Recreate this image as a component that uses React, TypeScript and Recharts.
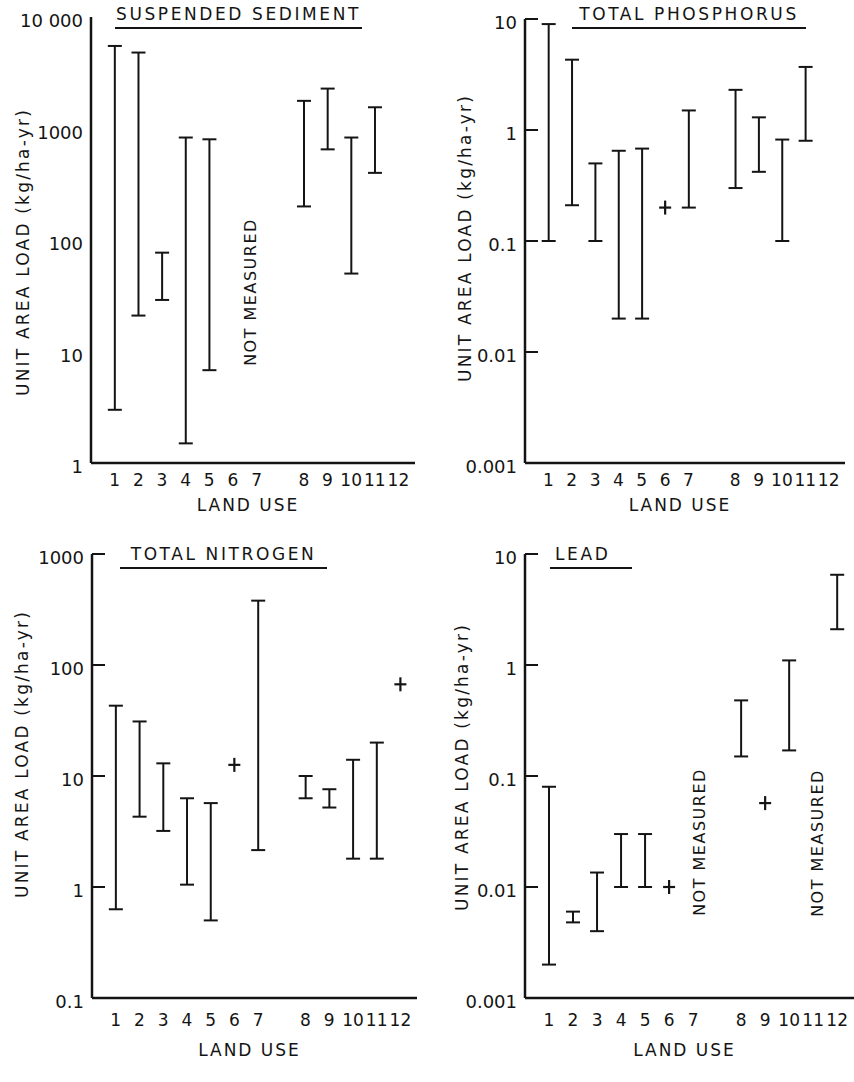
import { ComposedChart, Bar, Scatter, XAxis, YAxis } from 'recharts'

const INK = '#141414'

const landUse = ['1', '2', '3', '4', '5', '6', '7', '8', '9', '10', '11', '12']
// x slot of each land use on the axis (slot 8 stays empty, like the original)
const slots = [1, 2, 3, 4, 5, 6, 7, 9, 10, 11, 12, 13]

// unit area loads, kg/ha-yr. null = no value
const sedimentLow = [3, 21, 29, 1.5, 6.8, null, null, 200, 650, 50, 400, null]
const sedimentHigh = [5500, 4800, 77, 830, 800, null, null, 1770, 2280, 830, 1550, null]
const sedimentSingle = [null, null, null, null, null, null, null, null, null, null, null, null]
const sedimentTicks = [1, 10, 100, 1000, 10000]
const sedimentTickLabels = ['1', '10', '100', '1000', '10 000']

const phosphorusLow = [0.1, 0.21, 0.1, 0.02, 0.02, null, 0.2, 0.3, 0.42, 0.1, 0.8, null]
const phosphorusHigh = [9, 4.3, 0.5, 0.65, 0.68, null, 1.5, 2.3, 1.3, 0.82, 3.7, null]
const phosphorusSingle = [null, null, null, null, null, 0.2, null, null, null, null, null, null]
const phosphorusTicks = [0.001, 0.01, 0.1, 1, 10]
const phosphorusTickLabels = ['0.001', '0.01', '0.1', '1', '10']

const nitrogenLow = [0.63, 4.3, 3.2, 1.05, 0.5, null, 2.15, 6.3, 5.2, 1.8, 1.8, null]
const nitrogenHigh = [43, 31, 13, 6.3, 5.7, null, 380, 10, 7.6, 14, 20, null]
const nitrogenSingle = [null, null, null, null, null, 12.6, null, null, null, null, null, 67]
const nitrogenTicks = [0.1, 1, 10, 100, 1000]
const nitrogenTickLabels = ['0.1', '1', '10', '100', '1000']

const leadLow = [0.002, 0.0048, 0.004, 0.01, 0.01, null, null, 0.15, null, 0.17, null, 2.1]
const leadHigh = [0.08, 0.006, 0.0135, 0.03, 0.03, null, null, 0.48, null, 1.1, null, 6.5]
const leadSingle = [null, null, null, null, null, 0.01, null, null, 0.057, null, null, null]
const leadTicks = [0.001, 0.01, 0.1, 1, 10]
const leadTickLabels = ['0.001', '0.01', '0.1', '1', '10']

const TICK_GAP = 8

function IBeam(props: any) {
  const { x, y, width, height } = props
  const cx = x + width / 2
  return (
    <g stroke={INK} strokeWidth={2}>
      <line x1={cx} y1={y} x2={cx} y2={y + height} />
      <line x1={x} y1={y} x2={x + width} y2={y} />
      <line x1={x} y1={y + height} x2={x + width} y2={y + height} />
    </g>
  )
}

function Plus(props: any) {
  const { cx, cy } = props
  return (
    <g stroke={INK} strokeWidth={2.2}>
      <line x1={cx - 6} y1={cy} x2={cx + 6} y2={cy} />
      <line x1={cx} y1={cy - 7} x2={cx} y2={cy + 7} />
    </g>
  )
}

// y tick: label left of the axis, short tick mark pointing into the plot
function YTick(props: any) {
  const { x, y, payload, labels, ticks, showLine } = props
  const axisX = x + TICK_GAP
  return (
    <g>
      {showLine && <line x1={axisX} y1={y} x2={axisX + 13} y2={y} stroke={INK} strokeWidth={2} />}
      <text x={x} y={y + 4} dy="0.35em" textAnchor="end" fontSize={18} fill={INK}>
        {labels[ticks.indexOf(payload.value)]}
      </text>
    </g>
  )
}

interface PanelProps {
  low: (number | null)[]
  high: (number | null)[]
  single: (number | null)[]
  ticks: number[]
  tickLabels: string[]
  left: number
  top: number
  yWidth: number
  mTop: number
  mRight: number
  xHeight: number
  tickGap: number
  labelOffset: number
  titleX: number
  titleShift: number
  showTickLines: boolean
}

function Panel(p: PanelProps) {
  const ranges = landUse
    .map((label, i) => ({ slot: slots[i], label, range: [p.low[i], p.high[i]] }))
    .filter((r) => r.range[0] != null)
  const points = landUse
    .map((label, i) => ({ slot: slots[i], label, value: p.single[i] }))
    .filter((r) => r.value != null)

  return (
    <div style={{ position: 'absolute', left: p.left, top: p.top }}>
      <ComposedChart
        width={427}
        height={540}
        data={ranges}
        margin={{ top: p.mTop, right: p.mRight, bottom: 0, left: 0 }}
      >
        <XAxis
          type="number"
          dataKey="slot"
          domain={[0, 13.7]}
          ticks={slots}
          interval={0}
          allowDataOverflow
          tickFormatter={(v) => landUse[slots.indexOf(v)]}
          tickLine={false}
          tickMargin={p.tickGap}
          axisLine={{ stroke: INK, strokeWidth: 2.5 }}
          tick={{ fontSize: 17, fill: INK }}
          height={p.xHeight}
          label={{
            value: 'LAND USE',
            position: 'insideBottom',
            offset: p.labelOffset,
            dx: -5,
            style: { fontSize: 17, fill: INK, letterSpacing: 2 },
          }}
        />
        <YAxis
          type="number"
          scale="log"
          domain={[p.ticks[0], p.ticks[p.ticks.length - 1]]}
          ticks={p.ticks}
          interval={0}
          allowDataOverflow
          width={p.yWidth}
          tickSize={0}
          tickMargin={TICK_GAP}
          tickLine={false}
          axisLine={{ stroke: INK, strokeWidth: 2.5 }}
          tick={(t: any) => (
            <YTick {...t} labels={p.tickLabels} ticks={p.ticks} showLine={p.showTickLines} />
          )}
          label={{
            value: 'UNIT AREA LOAD (kg/ha-yr)',
            angle: -90,
            position: 'insideLeft',
            offset: p.titleX,
            dy: p.titleShift,
            style: { textAnchor: 'middle', fontSize: 17, fill: INK, letterSpacing: 2.2 },
          }}
        />
        <Bar dataKey="range" barSize={14} shape={(s: any) => <IBeam {...s} />} isAnimationActive={false} />
        <Scatter data={points} dataKey="value" shape={(s: any) => <Plus {...s} />} isAnimationActive={false} />
      </ComposedChart>
    </div>
  )
}

const titleStyle: React.CSSProperties = {
  position: 'absolute',
  fontSize: 17,
  letterSpacing: 2.6,
  lineHeight: '20px',
  paddingBottom: 3,
  borderBottom: `2px solid ${INK}`,
  color: INK,
  textAlign: 'center',
  whiteSpace: 'nowrap',
}

const noteStyle: React.CSSProperties = {
  position: 'absolute',
  fontSize: 16,
  letterSpacing: 1.5,
  color: INK,
  whiteSpace: 'nowrap',
  transform: 'translate(-50%, -50%) rotate(-90deg)',
}

export default function App() {
  return (
    <div
      style={{
        position: 'absolute',
        left: 0,
        top: 0,
        width: 854,
        height: 1082,
        background: '#fff',
        fontFamily: "'DejaVu Sans', sans-serif",
        overflow: 'hidden',
      }}
    >
      <Panel
        low={sedimentLow} high={sedimentHigh} single={sedimentSingle}
        ticks={sedimentTicks} tickLabels={sedimentTickLabels}
        left={0} top={0} yWidth={91} mTop={17} mRight={12} xHeight={77}
        tickGap={5} labelOffset={29} titleX={23} titleShift={12} showTickLines={false}
      />
      <Panel
        low={phosphorusLow} high={phosphorusHigh} single={phosphorusSingle}
        ticks={phosphorusTicks} tickLabels={phosphorusTickLabels}
        left={427} top={0} yWidth={98} mTop={19} mRight={9} xHeight={77}
        tickGap={5} labelOffset={29} titleX={38} titleShift={-3} showTickLines
      />
      <Panel
        low={nitrogenLow} high={nitrogenHigh} single={nitrogenSingle}
        ticks={nitrogenTicks} tickLabels={nitrogenTickLabels}
        left={0} top={540} yWidth={92} mTop={14} mRight={10} xHeight={82}
        tickGap={10} labelOffset={24} titleX={22} titleShift={-22} showTickLines
      />
      <Panel
        low={leadLow} high={leadHigh} single={leadSingle}
        ticks={leadTicks} tickLabels={leadTickLabels}
        left={427} top={540} yWidth={98} mTop={14} mRight={0} xHeight={82}
        tickGap={10} labelOffset={24} titleX={35} titleShift={-9} showTickLines
      />

      <div style={{ ...titleStyle, left: 115, top: 4, width: 247 }}>SUSPENDED SEDIMENT</div>
      <div style={{ ...titleStyle, left: 572, top: 4, width: 234 }}>TOTAL PHOSPHORUS</div>
      <div style={{ ...titleStyle, left: 120, top: 544, width: 207 }}>TOTAL NITROGEN</div>
      <div style={{ ...titleStyle, left: 550, top: 544, width: 82, textAlign: 'left', paddingLeft: 5, boxSizing: 'border-box' }}>LEAD</div>

      <div style={{ ...noteStyle, left: 250, top: 292 }}>NOT MEASURED</div>
      <div style={{ ...noteStyle, left: 699, top: 842 }}>NOT MEASURED</div>
      <div style={{ ...noteStyle, left: 817, top: 843 }}>NOT MEASURED</div>
    </div>
  )
}
